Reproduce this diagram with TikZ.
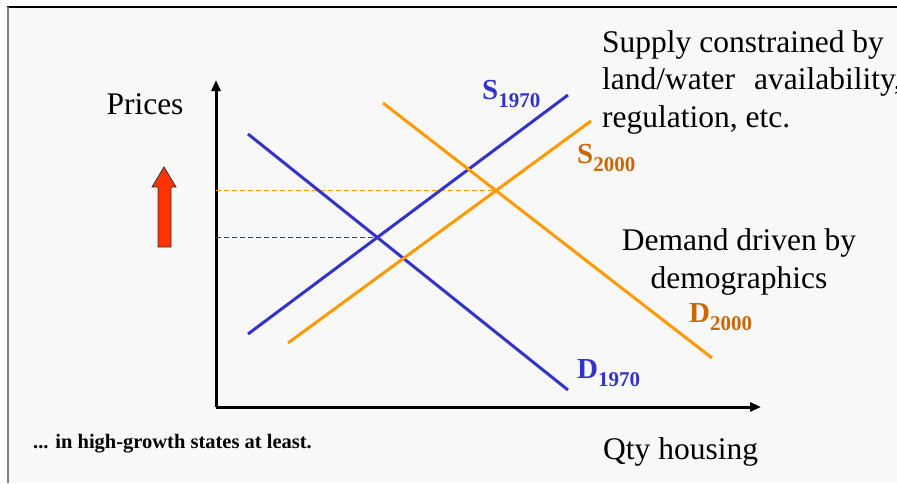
\documentclass[tikz,border=0pt]{standalone}
\usepackage{fontspec}
\setmainfont{Liberation Serif}
\usetikzlibrary{arrows.meta, positioning, calc}
\definecolor{lineblue}{RGB}{51, 51, 204}
\definecolor{lineorange}{RGB}{255, 153, 0}
\definecolor{labelorange}{RGB}{204, 102, 0}
\definecolor{arrowred}{RGB}{255, 51, 0}
\definecolor{slidebg}{RGB}{248, 248, 248}
\newcommand{\curvename}[2]{\textbf{#1}\raisebox{-8pt}{\fontsize{21}{21}\selectfont\bfseries #2}}

\begin{document}
\begin{tikzpicture}[
  x=1pt, y=-1pt,
  every node/.style={font=\fontsize{31.5}{37.5}\selectfont, inner sep=0pt},
  axis/.style={line width=3pt, -{Triangle[length=11pt, width=9pt]}},
  curve/.style={line width=3pt},
  guide/.style={line width=1pt, dash pattern=on 5pt off 3pt},
  curvelab/.style={font=\fontsize{29}{29}\selectfont, anchor=base west},
  note/.style={align=left, anchor=base west}
]
  \useasboundingbox (0,0) rectangle (897,483);

  % Cornice
  \fill[slidebg] (8,7) rectangle (897,483);
  \draw[line width=1.5pt] (7,7) -- (897,7);
  \draw[gray, line width=2pt] (8,7) -- (8,483);

  % Assi
  \coordinate (origin) at (216,407);
  \coordinate (ytop) at (216,80);
  \coordinate (xend) at (761,407);
  \draw[axis] (origin) -- (ytop);
  \draw[axis] (origin) -- (xend);

  % Curve di domanda e offerta
  \coordinate (d70a) at (248,134);
  \coordinate (d70b) at (568,390);
  \coordinate (s70a) at (248,334);
  \coordinate (s70b) at (568,95);
  \coordinate (s00a) at (288,343);
  \coordinate (s00b) at (591,121);
  \coordinate (d00a) at (383,103);
  \coordinate (d00b) at (712,358);
  \coordinate (eq70) at (intersection of d70a--d70b and s70a--s70b);
  \coordinate (eq00) at (intersection of d00a--d00b and s00a--s00b);

  \draw[guide, lineblue] (eq70 -| origin) -- (eq70);
  \draw[guide, lineorange] (eq00 -| origin) -- (eq00);

  \draw[curve, lineblue] (d70a) -- (d70b);
  \draw[curve, lineblue] (s70a) -- (s70b);
  \draw[curve, lineorange] (s00a) -- (s00b);
  \draw[curve, lineorange] (d00a) -- (d00b);

  % Etichette delle curve
  \node[curvelab, text=lineblue] (s70) at (482,99) {\curvename{S}{1970}};
  \node[curvelab, text=labelorange] (s00) at (577,163) {\curvename{S}{2000}};
  \node[curvelab, text=labelorange] (d00) at (689,322) {\curvename{D}{2000}};
  \node[curvelab, text=lineblue] (d70) at (577,378) {\curvename{D}{1970}};

  % Freccia rossa
  \draw[fill=arrowred, draw=black!80, line width=0.8pt]
    (158,247) -- (158,187) -- (152,187) -- (164,167) -- (176,187)
    -- (171,187) -- (171,247) -- cycle;

  % Testi
  \node[anchor=base] (prices) at (145,114) {Prices};
  \node[anchor=base west] (qty) at (603,459) {Qty housing};
  \node[note] (supply) at (602,127) {Supply constrained by\\land/water\hspace{0.35em} availability,\\regulation, etc.};
  \node[align=center, anchor=base] (demand) at (739,288) {Demand driven by\\demographics};
  \node[anchor=base west, font=\fontsize{20.5}{20.5}\selectfont\bfseries] (footnote) at (33,448) {... in high-growth states at least.};

\end{tikzpicture}
\end{document}
